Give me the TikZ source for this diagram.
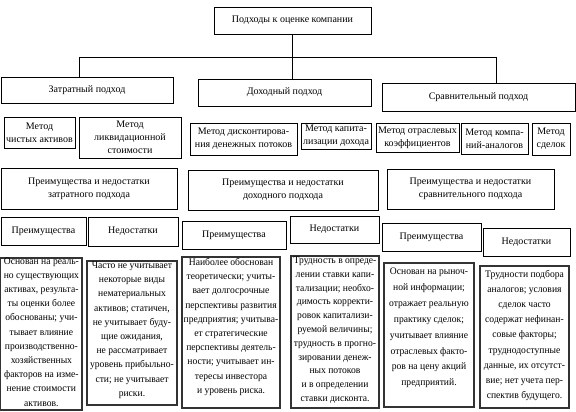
\documentclass[tikz,border=0pt]{standalone}
\usepackage{fontspec}
\setmainfont{Liberation Serif}
\newfontfamily\condfont[FakeStretch=0.96]{Liberation Serif}
\tikzset{
  bx/.style={draw=black, line width=0.8pt, inner sep=0pt, fill=white},
  tbx/.style={draw=black!80, line width=1.1pt, inner sep=0pt, fill=white},
  txt/.style={inner sep=0pt, anchor=base},
  conn/.style={draw=black, line width=0.8pt},
}
% style, name, x1, y1, x2, y2, text
\newcommand\bx[7][bx]{%
  \node[#1] (#2) at ({(#3+#5)/2},{(#4+#6)/2})
   {\parbox[c][\dimexpr#6pt-#4pt\relax][c]{\dimexpr#5pt-#3pt\relax}{\centering\fontsize{10}{13}\selectfont #7\par}};}
% name, x1, y1, x2, y2, skip, first baseline y, text
\newcommand\tx[8]{%
  \node[tbx, minimum width={#4pt-#2pt}, minimum height={#5pt-#3pt}] (#1) at ({(#2+#4)/2},{(#3+#5)/2}) {};
  \node[txt] (#1x) at ({(#2+#4)/2},#7)
   {\condfont\fontsize{10}{#6}\selectfont\begin{tabular}[t]{@{}c@{}}#8\end{tabular}};}
\begin{document}
\begin{tikzpicture}[x=1pt,y=-1pt]
\useasboundingbox[fill=white] (0,0) rectangle (576,412);
% level 0 and 1
\bx{top}{214}{7}{371}{34}{Подходы к оценке компании}
\bx{zat}{1}{77}{173}{103}{Затратный подход}
\bx{doh}{198}{79}{371}{106}{Доходный подход}
\bx{srv}{382}{83}{575}{111}{Сравнительный подход}
% connectors
\coordinate (hL) at (79,57);
\coordinate (hM) at (292.5,57);
\coordinate (hR) at (496,57);
\draw[conn] (top.south) -- (hM);
\draw[conn] (hL) -- (hR);
\draw[conn] (hL) -- (hL |- zat.north);
\draw[conn] (hM) -- (hM |- doh.north);
\draw[conn] (hR) -- (hR |- srv.north);
% methods
\bx{m1}{4}{117}{75}{148}{Метод\\чистых активов}
\bx{m2}{79}{117}{181}{158}{Метод\\ликвидационной\\стоимости}
\bx{m3}{190}{123}{297}{155}{Метод дисконтирова-\\ния денежных потоков}
\bx{m4}{301}{123}{371}{149}{Метод капита-\\лизации дохода}
\bx{m5}{376}{123}{459}{152}{Метод отраслевых\\коэффициентов}
\bx{m6}{461}{123}{528}{154}{Метод компа-\\ний-аналогов}
\bx{m7}{532}{123}{570}{155}{Метод\\сделок}
% pros and cons headers
\bx{pn1}{1}{168}{177}{209}{Преимущества и недостатки\\затратного подхода}
\bx{pn2}{188}{170}{378}{210}{Преимущества и недостатки\\доходного подхода}
\bx{pn3}{387}{169}{554}{209}{Преимущества и недостатки\\сравнительного подхода}
\bx{p1}{1}{217}{86}{245}{Преимущества}
\bx{n1}{88}{217}{178}{246}{Недостатки}
\bx{p2}{182}{221}{286}{249}{Преимущества}
\bx{n2}{290}{216}{379}{243}{Недостатки}
\bx{p3}{382}{223}{481}{251}{Преимущества}
\bx{n3}{483}{228}{570}{256}{Недостатки}
% texts
\tx{t1}{0.8}{258}{82}{410}{14.2}{264}{Основан на реаль-\\но существующих\\активах, результа-\\ты оценки более\\обоснованы; учи-\\тывает влияние\\производственно-\\хозяйственных\\факторов на изме-\\нение стоимости\\активов.}
\tx{t2}{87}{261}{177}{405}{14.2}{268.5}{Часто не учитывает\\некоторые виды\\нематериальных\\активов; статичен,\\не учитывает буду-\\щие ожидания,\\не рассматривает\\уровень прибыльно-\\сти; не учитывает\\риски.}
\tx{t3}{182}{257}{280}{408}{14.2}{265.5}{Наиболее обоснован\\теоретически; учиты-\\вает долгосрочные\\перспективы развития\\предприятия; учитыва-\\ет стратегические\\перспективы деятель-\\ности; учитывает ин-\\тересы инвестора\\и уровень риска.}
\tx{t4}{291}{256}{379}{408}{13.8}{263.5}{Трудность в опреде-\\лении ставки капи-\\тализации; необхо-\\димость корректи-\\ровок капитализи-\\руемой величины;\\трудность в прогно-\\зировании денеж-\\ных потоков\\и в определении\\ставки дисконта.}
\tx{t5}{384}{263}{474}{407}{15.9}{274.5}{Основан на рыноч-\\ной информации;\\отражает реальную\\практику сделок;\\учитывает влияние\\отраслевых факто-\\ров на цену акций\\предприятий.}
\tx{t6}{480}{266}{569}{408}{15.2}{277}{Трудности подбора\\аналогов; условия\\сделок часто\\содержат нефинан-\\совые факторы;\\труднодоступные\\данные, их отсутст-\\вие; нет учета пер-\\спектив будущего.}
\end{tikzpicture}
\end{document}
